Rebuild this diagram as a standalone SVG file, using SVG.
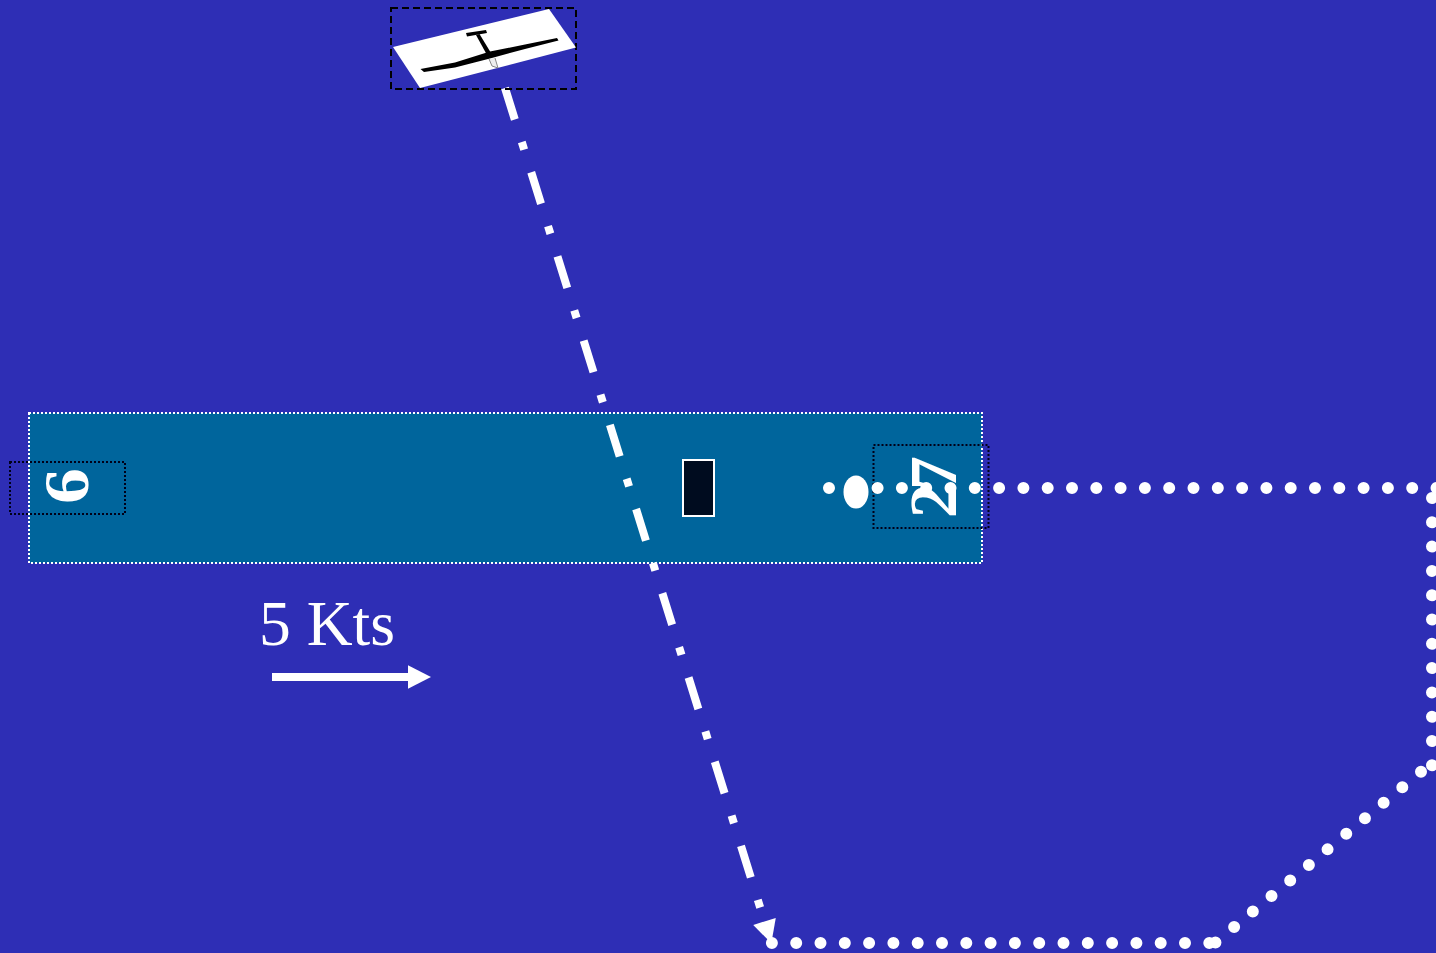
<svg xmlns="http://www.w3.org/2000/svg" width="1436" height="953" viewBox="0 0 1436 953">
<style>
.lbl{font-family:"Liberation Serif","Times New Roman",serif;fill:#fff}
.num{font-weight:bold}
.dots{fill:none;stroke:#fff;stroke-width:12;stroke-linecap:round;stroke-dasharray:0 24.3}
.box{fill:none;stroke:#000018;stroke-width:2;stroke-dasharray:2 2}
</style>
<defs>
<marker id="head" markerUnits="userSpaceOnUse" markerWidth="24" markerHeight="24" refX="0" refY="12" orient="auto" overflow="visible"><path d="M0 0.2L23 12L0 23.8Z" fill="#fff"/></marker>
</defs>
<rect id="background" width="1436" height="953" fill="#2e2eb5"/>
<g id="runway">
<rect x="29" y="413" width="953" height="150" fill="#00659c" stroke="#fff" stroke-width="2" stroke-dasharray="2 2"/>
</g>
<g id="threshold-9">
<rect class="box" x="10" y="462" width="115" height="52"/>
<text class="lbl num" transform="translate(88 504) rotate(-90) scale(1.12 1)" font-size="64">6</text>
</g>
<g id="threshold-27">
<rect class="box" x="873.5" y="445" width="115" height="83"/>
<text class="lbl num" transform="translate(955.5 518) rotate(-90)" font-size="68" letter-spacing="-6">27</text>
</g>
<g id="building">
<rect x="683" y="460" width="31" height="56" fill="#000c1f" stroke="#fff" stroke-width="2"/>
</g>
<g id="connectors">
<line x1="505" y1="88" x2="764.5" y2="921.4" fill="none" stroke="#fff" stroke-width="8" stroke-dasharray="33 23.5 8 23.7" marker-end="url(#head)"/>
<path class="dots" d="M829 488H1437"/>
<path class="dots" d="M1432 498V767"/>
<path class="dots" d="M1421 771.7L1215.3 942.7"/>
<path class="dots" d="M1209.3 943H771.7"/>
<line x1="272" y1="677" x2="408" y2="677" fill="none" stroke="#fff" stroke-width="8" marker-end="url(#head)"/>
</g>
<g id="marker">
<ellipse cx="856" cy="492" rx="12.5" ry="16.5" fill="#fff"/>
</g>
<g id="glider">
<rect x="391" y="8" width="185" height="81" fill="none" stroke="#000" stroke-width="2" stroke-dasharray="7 4"/>
<path d="M393 47L549 9L576 47.5L420 88Z" fill="#fff"/>
<path d="M420.5 69L455 62.5L490 51.5L525 44.5L557 38L558.5 40.5L525 49L490 58.5L455 67.5L424 72Z" fill="#000"/>
<path d="M476 35L479.5 34L491 53L487 55Z" fill="#000"/>
<path d="M466 33L486 30L487 33L467 36.5Z" fill="#000"/>
<path d="M489 59L492 66L498 68L495 58" fill="#eee" stroke="#888" stroke-width="1"/>
</g>
<g id="wind">
<text class="lbl" x="259" y="645" font-size="63.6">5 Kts</text>
</g>
</svg>
